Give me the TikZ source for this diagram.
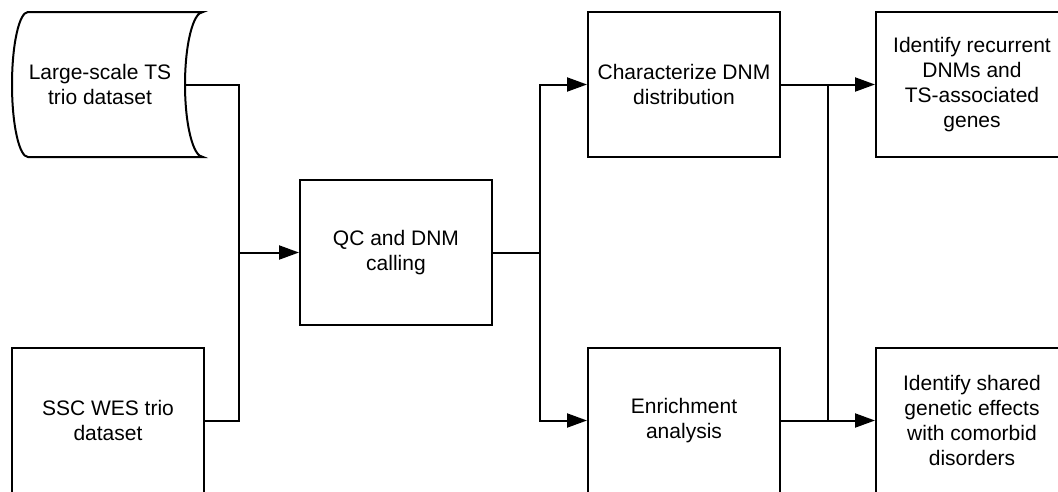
\documentclass[tikz,border=0pt]{standalone}
\usepackage{fontspec}
\setmainfont{Liberation Sans}
\usetikzlibrary{arrows.meta}
\begin{document}
\begin{tikzpicture}[x=1pt,y=-1pt,
  ln/.style={line width=2pt},
  box/.style={ln, draw, minimum width=192pt, minimum height=145pt, align=center, inner sep=0pt},
  txt/.style={align=center, inner sep=0pt},
  arr/.style={ln, -{Triangle[length=20pt,width=14pt]}},
  font=\fontsize{21}{25}\selectfont]
\useasboundingbox (0,0) rectangle (1058,491);
\fill[white] (0,0) rectangle (1058,491);
\clip (0,0) rectangle (1058,491);
% stored data shape
\draw[ln] (28,12) -- (203,12) arc[start angle=90,end angle=270,x radius=18pt,y radius=72.5pt]
  -- (28,157) arc[start angle=270,end angle=90,x radius=16pt,y radius=72.5pt] -- cycle;
\node[txt] (ds) at (100,84.5) {Large-scale TS\\trio dataset};
\coordinate (dsR) at (185,84.5);
\node[box] (ssc) at (108,420.5) {SSC WES trio\\dataset};
\node[box] (qc) at (396,252.5) {QC and DNM\\calling};
\node[box] (char) at (684,84.5) {Characterize DNM\\distribution};
\node[box] (enr) at (684,420.5) {Enrichment\\analysis};
\node[box] (rec) at (972,84.5) {Identify recurrent\\DNMs and\\TS-associated\\genes};
\node[box] (sha) at (972,420.5) {Identify shared\\genetic effects\\with comorbid\\disorders};
\coordinate (j1) at (239,252.5);
\coordinate (j2) at (540,252.5);
\coordinate (j3) at (828,84.5);
\coordinate (j4) at (828,420.5);
\draw[ln] (dsR) -| (j1);
\draw[ln] (ssc.east) -| (j1);
\draw[arr] (j1) -- (qc.west);
\draw[ln] (qc.east) -- (j2);
\draw[arr] (j2) |- (char.west);
\draw[arr] (j2) |- (enr.west);
\draw[arr] (char.east) -- (rec.west);
\draw[arr] (enr.east) -- (sha.west);
\draw[ln] (j3) -- (j4);
\end{tikzpicture}
\end{document}
